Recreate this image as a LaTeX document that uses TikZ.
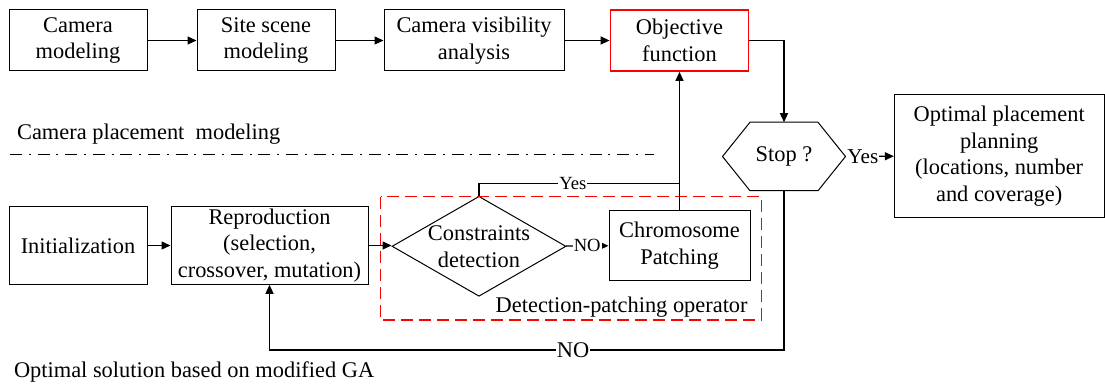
\documentclass[tikz,border=0pt]{standalone}
\usepackage{fontspec}
\setmainfont{Liberation Serif}
\usetikzlibrary{arrows.meta, shapes.geometric, calc}
\tikzset{>={Triangle[length=4.5pt,width=4pt]}}
\tikzset{
  txt/.style={font=\fontsize{11.2}{13.4}\selectfont},
  box/.style={draw, line width=0.5pt, align=center, inner sep=0.5pt},
  lbl/.style={fill=white, inner sep=0.5pt, font=\fontsize{9.3}{11}\selectfont},
  flow/.style={->, line width=0.65pt},
  link/.style={line width=0.65pt},
}

\begin{document}
\begin{tikzpicture}[x=0.5pt, y=-0.5pt, every node/.style={txt}]
    \useasboundingbox (0,0) rectangle (1105,389);

    \node[box, minimum width=69pt, minimum height=30.5pt] (cammod) at (78,40.5) {Camera\\modeling};
    \node[box, minimum width=69pt, minimum height=30.5pt] (sitemod) at (266,40.5) {Site scene\\modeling};
    \node[box, minimum width=90pt, minimum height=30.5pt] (visana) at (474,40.5) {Camera visibility\\analysis};
    \node[box, draw=red, line width=0.9pt, minimum width=69pt, minimum height=30.5pt] (objfun) at (679.5,40.5) {Objective\\function};

    \node[minimum width=61.5pt, minimum height=34.25pt, outer sep=0pt] (stop) at (784,156.5) {Stop ?};
    \draw[line width=0.5pt] (stop.west) -- ($(stop.north west)+(27.5,0)$) -- ($(stop.north east)+(-27.5,0)$)
        -- (stop.east) -- ($(stop.south east)+(-27.5,0)$) -- ($(stop.south west)+(27.5,0)$) -- cycle;
    \node[box, minimum width=104.85pt, minimum height=61.2pt] (optimal) at (999.2,156.2) {Optimal placement\\planning\\(locations, number\\and coverage)};

    \node[anchor=west, inner sep=0pt] (modeltitle) at (16.7,134) {Camera placement\ \ modeling};
    \draw[line width=0.6pt, dash pattern=on 6pt off 3.4pt on 1pt off 3.4pt] (10,154.5) coordinate (dl) -- (653.5,154.5) coordinate (dr);

    \node[box, minimum width=69pt, minimum height=38.8pt] (init) at (78,245.5) {Initialization};
    \node[box, minimum width=98.5pt, minimum height=38.8pt] (repro) at (269.5,245.5) {Reproduction\\(selection,\\crossover, mutation)};
    \node[draw, diamond, line width=0.5pt, minimum width=87pt, minimum height=50pt, inner sep=0pt] (detect) at (479,246.3) {};
    \node[align=center, inner sep=0pt] (detecttxt) at (detect) {Constraints\\detection};
    \node[box, minimum width=70.5pt, minimum height=35.3pt] (chrom) at (679.5,245.5) {Chromosome\\Patching};

    \draw[red, line width=0.7pt, dash pattern=on 6pt off 3pt] (380.7,196.7) rectangle (761.7,320);
    \node[anchor=east, inner sep=0pt] (optitle) at (748,306.7) {Detection-patching operator};
    \node[anchor=west, inner sep=0pt] (gatitle) at (13.6,371.7) {Optimal solution based on modified GA};

    \draw[flow] (cammod) -- (sitemod);
    \draw[flow] (sitemod) -- (visana);
    \draw[flow] (visana) -- (objfun);
    \draw[flow] (objfun.east) -| (stop.north);
    \draw[flow] (stop.east) -- node[lbl, pos=0.36, font=\fontsize{10.6}{12}\selectfont] {Yes} (optimal.west);

    \draw[flow] (init) -- (repro);
    \draw[flow] (repro.east) -- (repro.east -| detect.west);
    \draw[flow] (detect) -- node[lbl] {NO} (chrom);
    \draw[flow] (chrom) -- (objfun);
    \coordinate (yesjoin) at (679.5,183.3);
    \draw[link] (detect.north) |- node[lbl, pos=0.734] {Yes} (yesjoin);

    \coordinate (loopr) at (784,350);
    \coordinate (loopl) at (269.5,350);
    \draw[flow] (stop.south) -- (loopr) -- node[lbl, pos=0.41, font=\fontsize{11.2}{13}\selectfont] {NO} (loopl) -- (repro.south);
\end{tikzpicture}
\end{document}
